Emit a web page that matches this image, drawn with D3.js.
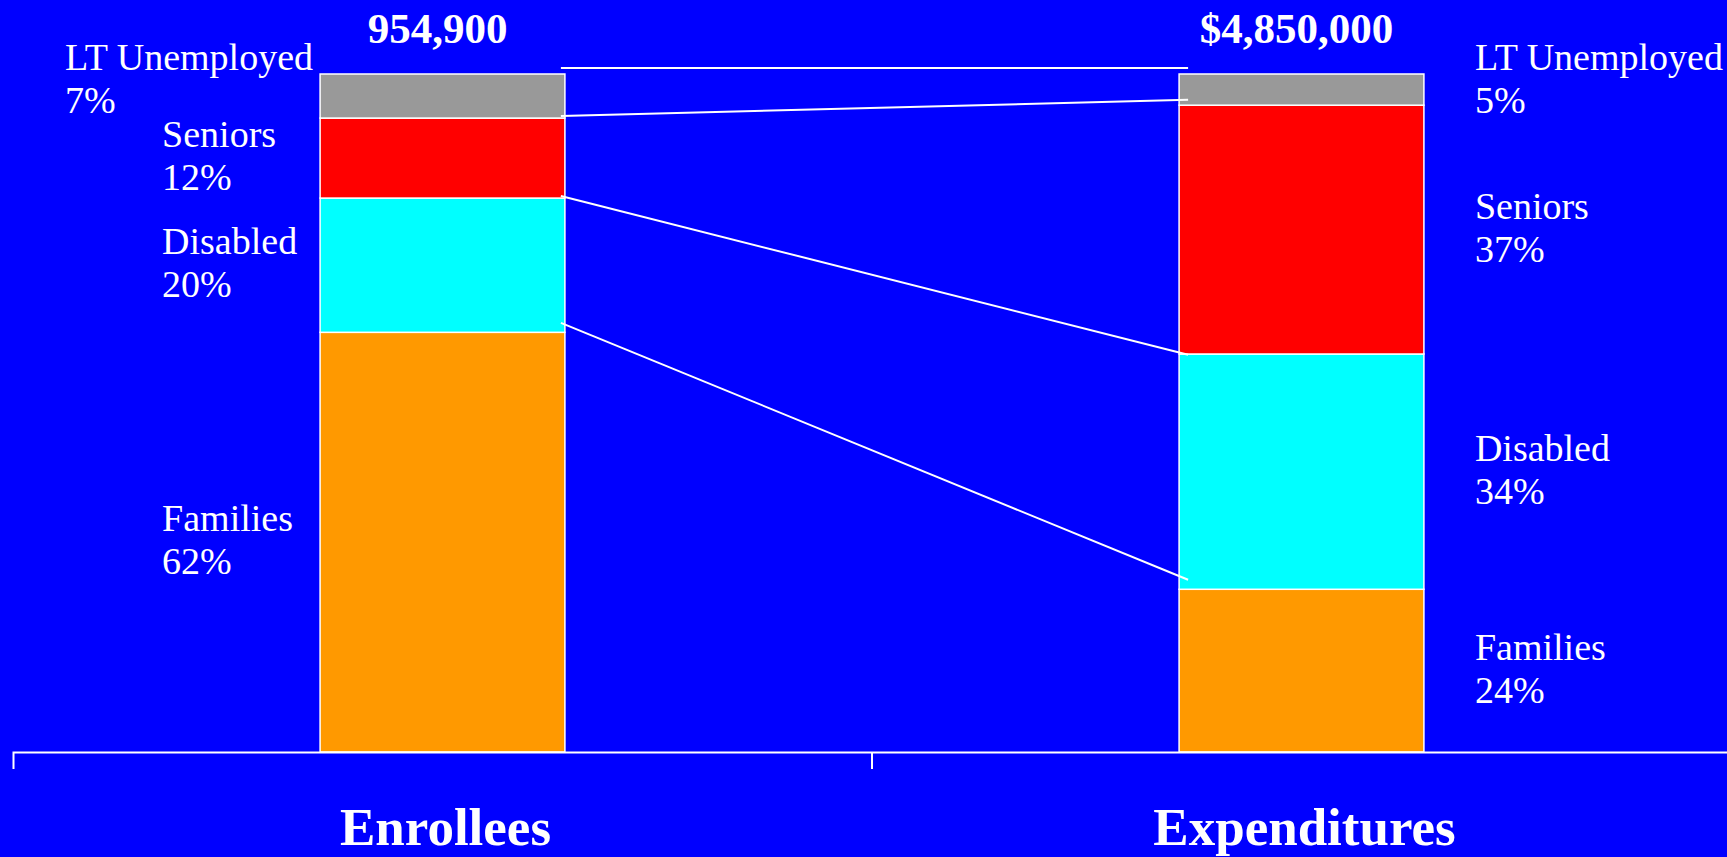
<!DOCTYPE html>
<html>
<head>
<meta charset="utf-8">
<script src="https://cdn.jsdelivr.net/npm/d3@7"></script>
<style>
  html, body { margin: 0; padding: 0; background: #0000FF; overflow: hidden; }
  svg { display: block; }
  text { font-family: "Liberation Serif", "Times New Roman", serif; fill: #ffffff; }
</style>
</head>
<body>
<svg id="chart" width="1727" height="857"></svg>
<script>
// ---- data ----
const categories = ["Enrollees", "Expenditures"];
const segments = ["Families", "Disabled", "Seniors", "LT Unemployed"];
const totals = ["954,900", "$4,850,000"];
const enrolleeShares = [61.9, 19.8, 11.8, 6.5];
const expenditureShares = [24.0, 34.7, 36.7, 4.6];
const enrolleeLabels = ["62%", "20%", "12%", "7%"];
const expenditureLabels = ["24%", "34%", "37%", "5%"];
const connectorLeft = [63.3, 82.0, 93.8, 100.9];
const connectorRight = [25.4, 58.6, 96.2, 100.9];
const colors = ["#FF9900", "#00FFFF", "#FF0000", "#999999"];

// ---- layout ----
const W = 1727, H = 857;
const svg = d3.select("#chart");
svg.append("rect").attr("width", W).attr("height", H).attr("fill", "#0000FF");

const x = d3.scaleBand().domain(categories).range([13, 1731]).paddingInner(0).paddingOuter(0);
const y = d3.scaleLinear().domain([0, 100]).range([752, 74]);
const barW = x.bandwidth() * 0.285;
const barX = c => x(c) + (x.bandwidth() - barW) / 2;

const shares = [enrolleeShares, expenditureShares];
const labels = [enrolleeLabels, expenditureLabels];

// stacked bars
categories.forEach((cat, ci) => {
  let cum = 0;
  const rows = shares[ci].map((v, si) => {
    const r = { seg: segments[si], v0: cum, v1: cum + v, color: colors[si], label: labels[ci][si], si };
    cum += v;
    return r;
  });
  const g = svg.append("g");
  g.selectAll("rect").data(rows).enter().append("rect")
    .attr("x", barX(cat))
    .attr("y", d => y(d.v1))
    .attr("width", barW)
    .attr("height", d => y(d.v0) - y(d.v1))
    .attr("fill", d => d.color)
    .attr("stroke", "#ffffff")
    .attr("stroke-width", 1.5);

  // segment labels
  rows.forEach(d => {
    const mid = (y(d.v0) + y(d.v1)) / 2;
    const isTop = d.si === segments.length - 1;
    const base = isTop ? y(100) - 4 : mid - 11;
    let lx;
    if (ci === 0) lx = isTop ? 65 : barX(cat) - 158;
    else lx = barX(cat) + barW + 51;
    const t = g.append("text").attr("x", lx).attr("y", base).attr("font-size", 38);
    t.append("tspan").attr("x", lx).text(d.seg);
    t.append("tspan").attr("x", lx).attr("dy", 43).text(d.label);
  });

  // totals
  svg.append("text")
    .attr("x", barX(cat) + barW / 2 - 5)
    .attr("y", 43)
    .attr("text-anchor", "middle")
    .attr("font-size", 43)
    .attr("font-weight", "bold")
    .text(totals[ci]);
});

// connector lines
const lx1 = barX(categories[0]) + barW - 4;
const lx2 = barX(categories[1]) + 9;
svg.append("g").selectAll("line").data(connectorLeft).enter().append("line")
  .attr("x1", lx1).attr("y1", d => y(d))
  .attr("x2", lx2).attr("y2", (d, i) => y(connectorRight[i]))
  .attr("stroke", "#ffffff").attr("stroke-width", 2);

// axis
const axis = svg.append("g").attr("transform", "translate(0,752)")
  .call(d3.axisBottom(x).tickSizeInner(0).tickSizeOuter(17).tickPadding(55));
axis.select(".domain").attr("stroke", "#ffffff").attr("stroke-width", 2);
axis.selectAll(".tick text")
  .attr("fill", "#ffffff")
  .attr("font-family", "\"Liberation Serif\", \"Times New Roman\", serif")
  .attr("font-size", 53)
  .attr("font-weight", "bold")
  .attr("dx", 3);
axis.selectAll(".boundary").data(categories.slice(1)).enter().append("line")
  .attr("class", "boundary")
  .attr("x1", d => x(d)).attr("x2", d => x(d))
  .attr("y1", 0).attr("y2", 17)
  .attr("stroke", "#ffffff").attr("stroke-width", 2);
</script>
</body>
</html>
